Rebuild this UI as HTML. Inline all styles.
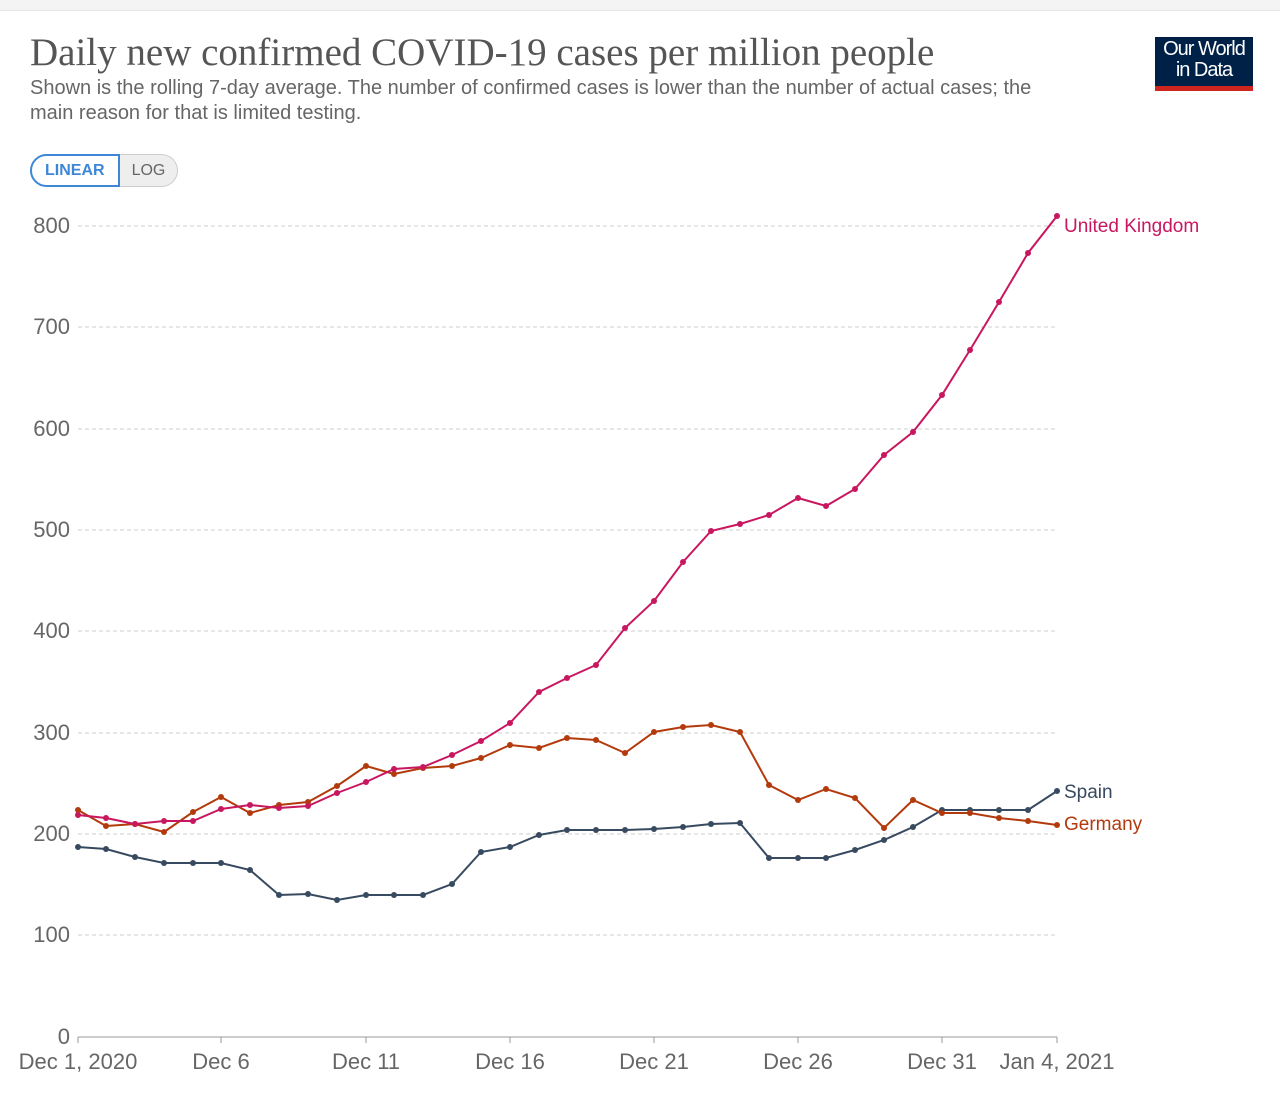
<!DOCTYPE html>
<html><head><meta charset="utf-8"><style>
body{margin:0;background:#fff;width:1280px;height:1100px;overflow:hidden;font-family:"Liberation Sans",sans-serif}
.top{position:absolute;left:0;top:0;width:1280px;height:10px;background:#f4f4f4;border-bottom:1px solid #e6e6e6}
h1{position:absolute;left:30px;top:30px;margin:0;font-family:"Liberation Serif",serif;font-weight:normal;font-size:39px;color:#555}
.sub{position:absolute;left:30px;top:76px;width:1025px;font-size:20px;line-height:25px;color:#666}
.logo{position:absolute;left:1155px;top:37px;width:98px;height:54px;background:#002147;color:#fff;font-size:20px;line-height:21px;text-align:center;letter-spacing:-1px;padding-top:2px;box-sizing:border-box}
.logo:after{content:"";position:absolute;left:0;bottom:0;width:98px;height:5px;background:#ce261e}
.btns{position:absolute;left:30px;top:154px;height:33px;display:flex;font-size:16px;font-weight:bold}
.b1{border:2px solid #3d87d6;color:#3d87d6;border-radius:17px 0 0 17px;padding:0 13px;line-height:29px}
.b2{border:1px solid #ccc;border-left:none;background:#eee;color:#666;border-radius:0 17px 17px 0;padding:0 12px;line-height:31px;font-weight:normal}
</style></head><body>
<div class="top"></div>
<h1>Daily new confirmed COVID-19 cases per million people</h1>
<div class="sub">Shown is the rolling 7-day average. The number of confirmed cases is lower than the number of actual cases; the main reason for that is limited testing.</div>
<div class="logo">Our World<br>in Data</div>
<div class="btns"><div class="b1">LINEAR</div><div class="b2">LOG</div></div>
<svg width="1280" height="1100" style="position:absolute;left:0;top:0" font-family="Liberation Sans, sans-serif">
<g stroke="#ccc" stroke-dasharray="4,3" stroke-width="1">
<line x1="78" x2="1057" y1="226" y2="226"/><line x1="78" x2="1057" y1="327" y2="327"/><line x1="78" x2="1057" y1="429" y2="429"/><line x1="78" x2="1057" y1="530" y2="530"/><line x1="78" x2="1057" y1="631" y2="631"/><line x1="78" x2="1057" y1="733" y2="733"/><line x1="78" x2="1057" y1="834" y2="834"/><line x1="78" x2="1057" y1="935" y2="935"/>
</g>
<line x1="78" x2="1057" y1="1037" y2="1037" stroke="#999"/>
<g stroke="#999"><line x1="78" x2="78" y1="1037" y2="1043"/><line x1="221" x2="221" y1="1037" y2="1043"/><line x1="366" x2="366" y1="1037" y2="1043"/><line x1="510" x2="510" y1="1037" y2="1043"/><line x1="654" x2="654" y1="1037" y2="1043"/><line x1="798" x2="798" y1="1037" y2="1043"/><line x1="942" x2="942" y1="1037" y2="1043"/><line x1="1057" x2="1057" y1="1037" y2="1043"/></g>
<g fill="#666" font-size="22" text-anchor="end">
<text x="70" y="233">800</text><text x="70" y="334">700</text><text x="70" y="436">600</text><text x="70" y="537">500</text><text x="70" y="638">400</text><text x="70" y="740">300</text><text x="70" y="841">200</text><text x="70" y="942">100</text><text x="70" y="1044">0</text>
</g>
<g fill="#666" font-size="22" text-anchor="middle">
<text x="78" y="1069">Dec 1, 2020</text><text x="221" y="1069">Dec 6</text><text x="366" y="1069">Dec 11</text><text x="510" y="1069">Dec 16</text><text x="654" y="1069">Dec 21</text><text x="798" y="1069">Dec 26</text><text x="942" y="1069">Dec 31</text><text x="1057" y="1069">Jan 4, 2021</text>
</g>
<g fill="none" stroke-width="2">
<polyline id="sp" stroke="#374a5f" points="78,847 106,849 135,857 164,863 193,863 221,863 250,870 279,895 308,894 337,900 366,895 394,895 423,895 452,884 481,852 510,847 539,835 567,830 596,830 625,830 654,829 683,827 711,824 740,823 769,858 798,858 826,858 855,850 884,840 913,827 942,810 970,810 999,810 1028,810 1057,791"/>
<polyline id="de" stroke="#b33a0d" points="78,810 106,826 135,824 164,832 193,812 221,797 250,813 279,805 308,802 337,786 366,766 394,774 423,768 452,766 481,758 510,745 539,748 567,738 596,740 625,753 654,732 683,727 711,725 740,732 769,785 798,800 826,789 855,798 884,828 913,800 942,813 970,813 999,818 1028,821 1057,825"/>
<polyline id="uk" stroke="#c8175f" points="78,815 106,818 135,824 164,821 193,821 221,809 250,805 279,808 308,806 337,793 366,782 394,769 423,767 452,755 481,741 510,723 539,692 567,678 596,665 625,628 654,601 683,562 711,531 740,524 769,515 798,498 826,506 855,489 884,455 913,432 942,395 970,350 999,302 1028,253 1057,216"/>
</g>
<g id="dots"></g>
<text x="1064" y="232" fill="#c8175f" font-size="19">United Kingdom</text>
<text x="1064" y="798" fill="#374a5f" font-size="19">Spain</text>
<text x="1064" y="830" fill="#b33a0d" font-size="19">Germany</text>
</svg>
<script>
var g=document.getElementById('dots');
['sp','de','uk'].forEach(function(id){var p=document.getElementById(id);var c=p.getAttribute('stroke');
p.getAttribute('points').trim().split(/\s+/).forEach(function(s){var a=s.split(',');
var e=document.createElementNS('http://www.w3.org/2000/svg','circle');e.setAttribute('cx',a[0]);e.setAttribute('cy',a[1]);e.setAttribute('r','3');e.setAttribute('fill',c);g.appendChild(e);});});
</script>
</body></html>
